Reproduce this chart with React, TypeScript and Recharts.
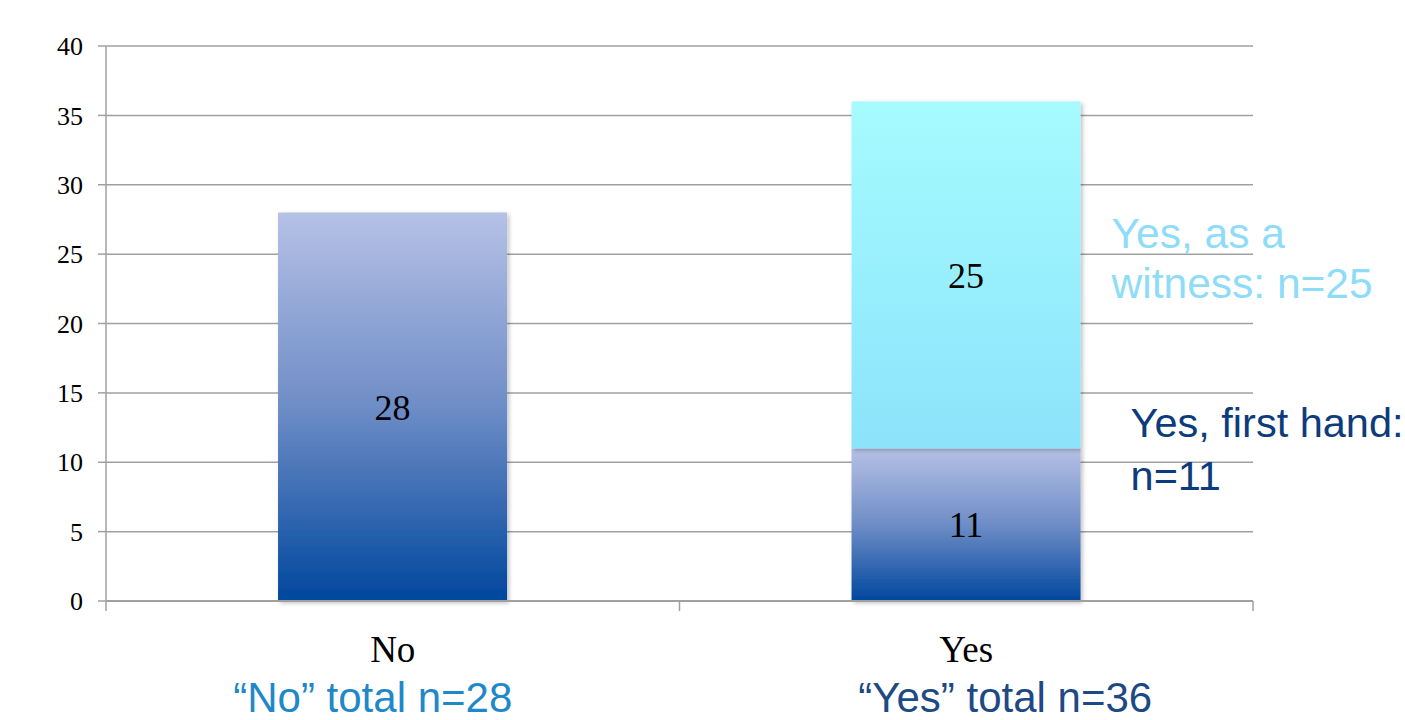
import React from 'react';
import { Bar, BarChart, CartesianGrid, LabelList, XAxis, YAxis } from 'recharts';

const categories = ['No', 'Yes'];
const lowerValues = [28, 11];
const upperValues = [null, 25];
const totalNotes = ['\u201CNo\u201D total n=28', '\u201CYes\u201D total n=36'];
const witnessNote = ['Yes, as a', 'witness: n=25'];
const firstHandNote = ['Yes, first hand:', 'n=11'];
const yTicks = [0, 5, 10, 15, 20, 25, 30, 35, 40];

const data = categories.map((name, i) => ({ name, lower: lowerValues[i], upper: upperValues[i] }));

const serif = '"Liberation Serif", "Times New Roman", serif';
const sans = '"Liberation Sans", Arial, Helvetica, sans-serif';
const totalColors = ['#1f88c8', '#1e4a84'];
const totalShift = [-20, 39];

function CategoryTick(props: any) {
  const { x, y, payload, index } = props;
  const off = payload.offset ?? 287;
  return (
    <g>
      <line x1={x - off} x2={x - off} y1={y - 10} y2={y} stroke="#a0a0a0" strokeWidth={1.5} />
      {index === categories.length - 1 && (
        <line x1={x + off} x2={x + off} y1={y - 10} y2={y} stroke="#a0a0a0" strokeWidth={1.5} />
      )}
      <text x={x} y={y + 51} textAnchor="middle" fontFamily={serif} fontSize={37} fill="#000">
        {payload.value}
      </text>
      <text x={x + totalShift[index]} y={y + 101} textAnchor="middle" fontFamily={sans} fontSize={42} fill={totalColors[index]}>
        {totalNotes[index]}
      </text>
    </g>
  );
}

function sideNote(lines: string[], color: string, size: number, dx: number, dys: number[]) {
  return (props: any) => {
    const { x, y, width, height, index } = props;
    if (index !== 1) return null;
    const cy = Number(y) + Number(height) / 2;
    return (
      <g>
        {lines.map((t, i) => (
          <text key={i} x={Number(x) + Number(width) + dx} y={cy + dys[i]} fontFamily={sans} fontSize={size} fill={color}>
            {t}
          </text>
        ))}
      </g>
    );
  };
}

const shadowBar = (fill: string) => (props: any) => {
  const { x, y, width, height } = props;
  if (!height) return null;
  return <rect x={x} y={y} width={width} height={height} fill={fill} filter="url(#barShadow)" />;
};

export default function App() {
  return (
    <div style={{ position: 'absolute', left: 0, top: 0 }}>
      <BarChart width={1405} height={720} data={data} barCategoryGap="30%"
        margin={{ top: 46, right: 152, bottom: 0, left: 0 }}>
        <defs>
          <linearGradient id="blueGrad" x1="0" y1="0" x2="0" y2="1">
            <stop offset="0%" stopColor="#b6c1e6" />
            <stop offset="50%" stopColor="#6e8dc6" />
            <stop offset="100%" stopColor="#00479e" />
          </linearGradient>
          <linearGradient id="cyanGrad" x1="0" y1="0" x2="0" y2="1">
            <stop offset="0%" stopColor="#a6fbfe" />
            <stop offset="100%" stopColor="#8be3fb" />
          </linearGradient>
          <filter id="barShadow" x="-5%" y="-5%" width="115%" height="115%">
            <feDropShadow dx="2" dy="2" stdDeviation="2" floodColor="#000" floodOpacity="0.25" />
          </filter>
        </defs>
        <CartesianGrid vertical={false} stroke="#a0a0a0" strokeWidth={1.5} />
        <YAxis domain={[0, 40]} ticks={yTicks} width={106} tickSize={8} tickMargin={15}
          axisLine={{ stroke: '#a0a0a0', strokeWidth: 1.5 }} tickLine={{ stroke: '#a0a0a0', strokeWidth: 1.5 }}
          tick={{ fontFamily: serif, fontSize: 26, fill: '#000' }} />
        <XAxis dataKey="name" height={119} tickSize={10} tickMargin={0} tickLine={false}
          axisLine={{ stroke: '#a0a0a0', strokeWidth: 2 }} tick={<CategoryTick />} interval={0} />
        <Bar dataKey="lower" stackId="a" fill="url(#blueGrad)" isAnimationActive={false} shape={shadowBar('url(#blueGrad)')}>
          <LabelList dataKey="lower" position="center" fontFamily={serif} fontSize={36} fill="#000" />
          <LabelList dataKey="lower" content={sideNote(firstHandNote, '#0c3c7c', 41.5, 50, [-88, -35])} />
        </Bar>
        <Bar dataKey="upper" stackId="a" fill="url(#cyanGrad)" isAnimationActive={false} shape={shadowBar('url(#cyanGrad)')}>
          <LabelList dataKey="upper" position="center" fontFamily={serif} fontSize={36} fill="#000" />
          <LabelList dataKey="upper" content={sideNote(witnessNote, '#8fdcf8', 42.5, 31, [-27, 23])} />
        </Bar>
      </BarChart>
    </div>
  );
}
